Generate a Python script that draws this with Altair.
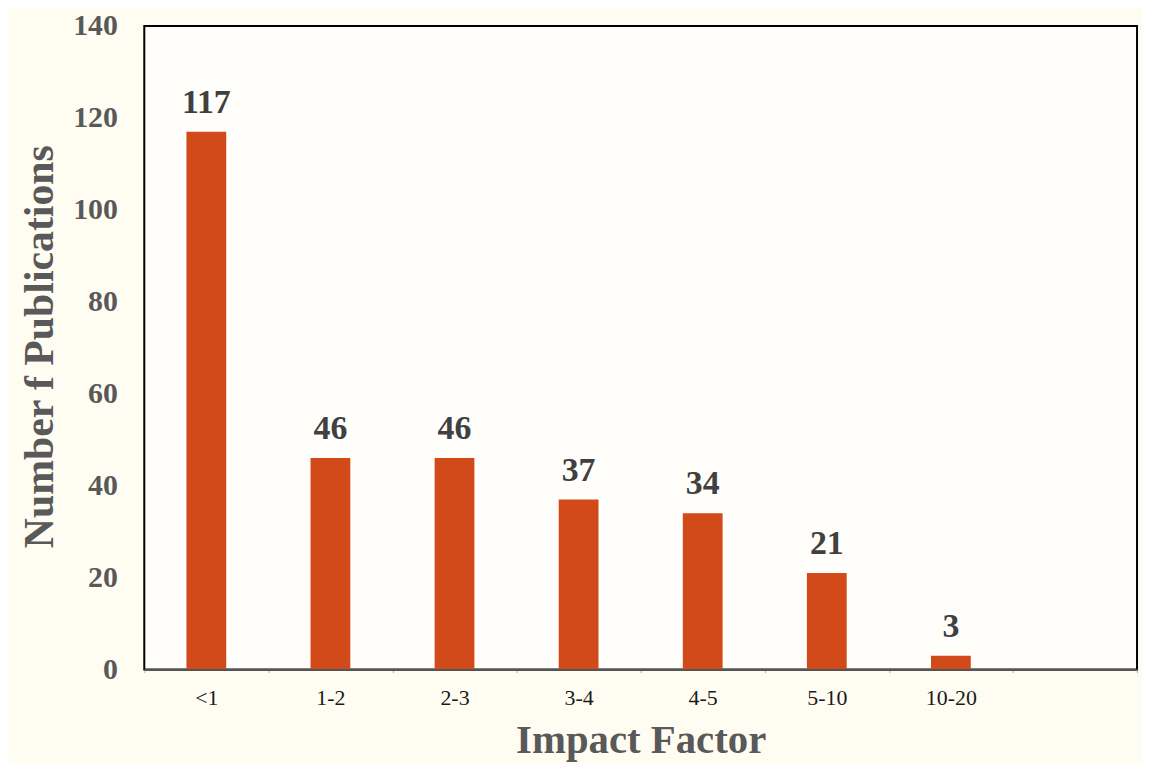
import altair as alt
import pandas as pd

categories = ["<1", "1-2", "2-3", "3-4", "4-5", "5-10", "10-20"]
counts = [117, 46, 46, 37, 34, 21, 3]
domain_cats = categories + [" "]
y_ticks = [0, 20, 40, 60, 80, 100, 120, 140]

df = pd.DataFrame({"cat": categories, "n": counts})

FONT = "Liberation Serif"

x_enc = alt.X(
    "cat:N",
    sort=domain_cats,
    scale=alt.Scale(domain=domain_cats, paddingInner=0, paddingOuter=0),
    axis=alt.Axis(
        title="Impact Factor",
        titleFont=FONT,
        titleFontSize=41,
        titleFontWeight="bold",
        titleColor="#595959",
        titleY=83,
        titleBaseline="alphabetic",
        labelFont=FONT,
        labelFontSize=22,
        labelColor="#1a1a1a",
        labelAngle=0,
        labelPadding=15,
        tickBand="extent",
        tickSize=3,
        tickColor="#aaaaaa",
        domainColor="#555555",
        domainWidth=2,
        zindex=1,
    ),
)

y_enc = alt.Y(
    "n:Q",
    scale=alt.Scale(domain=[0, 140], nice=False),
    axis=alt.Axis(
        title="Number f Publications",
        values=y_ticks,
        titleFont=FONT,
        titleFontSize=42,
        titleFontWeight="bold",
        titleColor="#595959",
        titleAngle=-90,
        titleX=-105,
        titleY=322,
        titleAlign="center",
        titleBaseline="middle",
        labelFont=FONT,
        labelFontSize=30,
        labelFontWeight="bold",
        labelColor="#595959",
        labelPadding=27,
        ticks=False,
        domain=False,
        grid=False,
    ),
)

bars = alt.Chart(df).mark_bar(color="#D24A19", size=40).encode(x=x_enc, y=y_enc)

labels = alt.Chart(df).mark_text(
    font=FONT,
    fontSize=34,
    fontWeight="bold",
    color="#404040",
    baseline="alphabetic",
    dy=-19,
).encode(x=alt.X("cat:N", sort=domain_cats), y="n:Q", text="n:Q")

chart = (
    alt.layer(bars, labels)
    .properties(
        width=998,
        height=647,
        background="#FFFDF2",
        padding={"left": 137, "top": 16, "right": 5, "bottom": 93},
        autosize=alt.AutoSizeParams(type="none"),
    )
    .configure_view(fill="#FFFEFA", stroke="#000000", strokeWidth=2)
)

chart.save("out.html", embed_options={"renderer": "svg", "actions": False})
